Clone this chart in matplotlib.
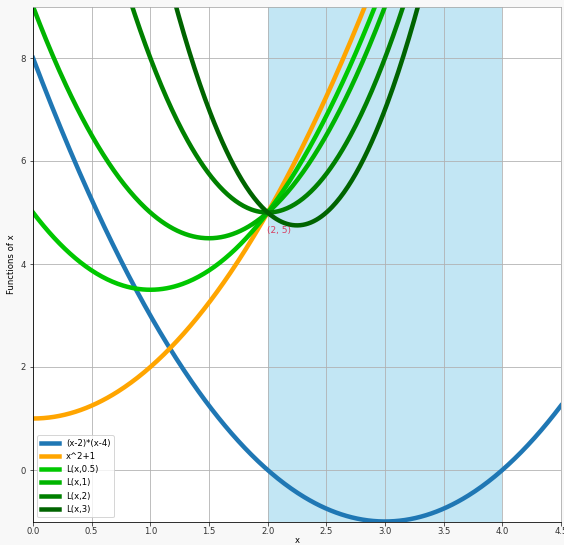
import numpy as np
import matplotlib
matplotlib.use('Agg')
import matplotlib.pyplot as plt

# 数据
x_min, x_max = 0.0, 4.5
lambdas = [0.5, 1, 2, 3]
lambda_labels = ['L(x,0.5)', 'L(x,1)', 'L(x,2)', 'L(x,3)']
lambda_colors = ['#00c800', '#00b400', '#008000', '#006400']
span = (2, 4)
point = (2, 5)


def f(x):
    return x ** 2 + 1


def g(x):
    return (x - 2) * (x - 4)


def lagrangian(x, lam):
    return f(x) + lam * g(x)


x = np.linspace(x_min, x_max, 400)

fig = plt.figure(figsize=(564 / 72, 545 / 72), dpi=72, facecolor='#f8f8f8')
ax = fig.add_axes([33 / 564, 1 - 521.5 / 545, 528 / 564, 515 / 545])

ax.axvspan(span[0], span[1], color='skyblue', alpha=0.5, lw=0)

ax.plot(x, g(x), color='#1f77b4', lw=4.5, label='(x-2)*(x-4)')
ax.plot(x, f(x), color='orange', lw=4.5, label='x^2+1')
for lam, lab, col in zip(lambdas, lambda_labels, lambda_colors):
    ax.plot(x, lagrangian(x, lam), color=col, lw=4.5, label=lab)

ax.scatter([point[0]], [point[1]], color='crimson', s=40, zorder=1)
ax.annotate('(2, 5)', xy=point, xytext=(-1, -20), textcoords='offset points',
            color='crimson', fontsize=9, alpha=0.8)

ax.set_xlim(x_min, x_max)
ax.set_ylim(-1, 9)
ax.grid(True, color='#b0b0b0', lw=0.8)
ax.set_xlabel('x', fontsize=8.5, labelpad=0)
ax.set_ylabel('Functions of x', fontsize=8.5)
ax.tick_params(labelsize=8.5, colors='#333333')
ax.tick_params(axis='x', pad=2)
for side in ['top', 'right']:
    ax.spines[side].set_color('#aaaaaa')

ax.legend(loc='lower left', fontsize=8.5, handlelength=2.2)

fig.savefig('out.png', dpi=72, facecolor=fig.get_facecolor())
